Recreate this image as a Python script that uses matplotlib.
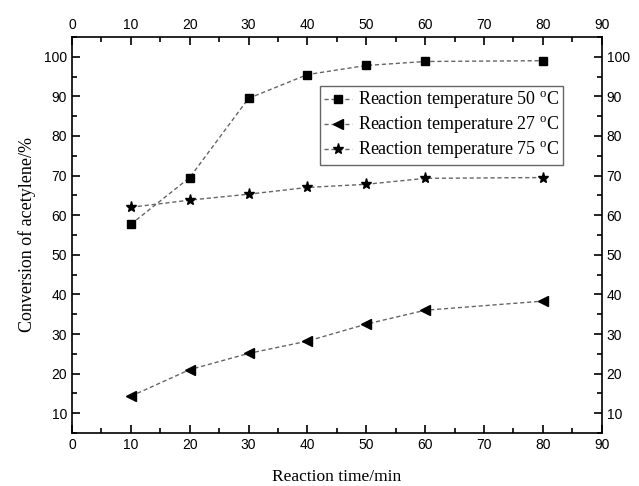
import numpy as np
import matplotlib.pyplot as plt
from matplotlib.ticker import MultipleLocator
from matplotlib.legend_handler import HandlerLine2D

time = [10, 20, 30, 40, 50, 60, 80]
conv_50 = [57.7, 69.5, 89.5, 95.5, 97.8, 98.8, 99.0]
conv_27 = [14.3, 21.0, 25.1, 28.2, 32.5, 36.0, 38.3]
conv_75 = [62.0, 63.8, 65.3, 67.0, 67.8, 69.3, 69.5]
labels = ["Reaction temperature 50 $^{\\rm o}$C",
          "Reaction temperature 27 $^{\\rm o}$C",
          "Reaction temperature 75 $^{\\rm o}$C"]

serif = ["Liberation Serif", "DejaVu Serif"]
sans = ["Liberation Sans", "DejaVu Sans"]
plt.rcParams['font.family'] = sans
plt.rcParams['mathtext.fontset'] = 'custom'
plt.rcParams['mathtext.rm'] = 'Liberation Serif'


class LeftMarker(HandlerLine2D):
    # marker at the left end of the legend line, like the original
    def get_xdata(self, legend, xdescent, ydescent, width, height, fontsize):
        xdata = np.array([-xdescent, -xdescent + width])
        return xdata, [-xdescent + 0.12 * width]


fig = plt.figure(figsize=(6.39, 4.86), dpi=100)
ax = fig.add_axes([0.1127, 0.109, 0.829, 0.815])

ls = (0, (3, 2))
lc = '#666666'
ax.plot(time, conv_50, linestyle=ls, color=lc, lw=1, marker='s',
        ms=5.5, mfc='black', mec='black', label=labels[0])
ax.plot(time, conv_27, linestyle=ls, color=lc, lw=1, marker='<',
        ms=7, mfc='black', mec='black', label=labels[1])
ax.plot(time, conv_75, linestyle=ls, color=lc, lw=1, marker='*',
        ms=8, mfc='black', mec='black', label=labels[2])

ax.set_xlim(0, 90)
ax.set_ylim(5, 105)
ax.xaxis.set_major_locator(MultipleLocator(10))
ax.xaxis.set_minor_locator(MultipleLocator(5))
ax.yaxis.set_minor_locator(MultipleLocator(5))
ax.set_yticks(range(10, 101, 10))
ax.tick_params(which='both', direction='in', top=True, right=True,
               labeltop=True, labelright=True, labelsize=10, width=1.2)
ax.tick_params(which='major', length=6)
ax.tick_params(which='minor', length=3.5)
for s in ax.spines.values():
    s.set_linewidth(1.2)

ax.set_xlabel("Reaction time/min", family=serif, fontsize=12.5, labelpad=12)
ax.set_ylabel("Conversion of acetylene/%", family=serif, fontsize=13, labelpad=6)

leg = ax.legend(loc='upper left', bbox_to_anchor=(0.468, 0.875), prop={'family': serif, 'size': 13},
                numpoints=1, handlelength=1.6, handletextpad=0.3, borderpad=0.2,
                labelspacing=0.2, fancybox=False, framealpha=1, borderaxespad=0,
                handler_map={plt.Line2D: LeftMarker()})
leg.get_frame().set_edgecolor('#666666')
leg.get_frame().set_linewidth(1.0)

fig.savefig("out.png", dpi=100)
